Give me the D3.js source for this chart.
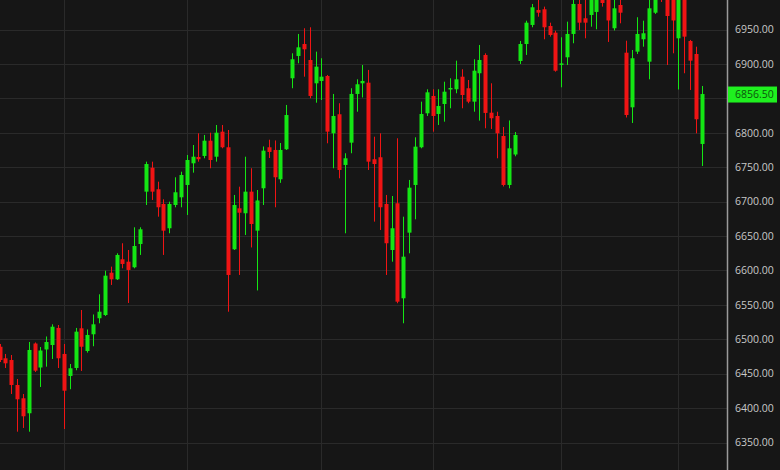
<!DOCTYPE html>
<html>
<head>
<meta charset="utf-8">
<script src="https://cdn.jsdelivr.net/npm/d3@7"></script>
<style>
  html, body { margin: 0; padding: 0; background: #161616; }
  #chart { width: 780px; height: 470px; }
</style>
</head>
<body>
<div id="chart"></div>
<script>
// OHLC, one entry per session (oldest first)
var open = [6489.2, 6472.4, 6469.9, 6433.6, 6414.3, 6392.5, 6493.9, 6459.0, 6485.2, 6491.7,
  6516.5, 6478.7, 6446.7, 6458.3, 6516.0, 6483.0, 6507.3, 6530.6, 6535.3, 6596.8,
  6587.2, 6616.3, 6612.8, 6604.7, 6638.5, 6714.6, 6749.4, 6718.1, 6696.7, 6661.4,
  6695.2, 6706.4, 6724.3, 6755.8, 6765.0, 6766.5, 6788.7, 6765.4, 6801.8, 6779.1,
  6630.8, 6690.4, 6683.2, 6714.6, 6657.9, 6719.5, 6779.1, 6775.2, 6732.6, 6776.2,
  6879.4, 6911.8, 6929.2, 6906.0, 6872.1, 6875.5, 6882.7, 6799.4, 6827.1, 6753.4,
  6785.8, 6856.6, 6872.1, 6873.0, 6761.7, 6764.6, 6696.7, 6629.8, 6697.7, 6559.6,
  6655.0, 6724.3, 6779.1, 6828.5, 6853.7, 6827.5, 6842.0, 6864.9, 6863.4, 6881.7,
  6864.9, 6845.4, 6886.7, 6913.3, 6829.4, 6824.6, 6795.5, 6724.3, 6768.6, 6904.5,
  6929.2, 6956.9, 6978.7, 6979.7, 6955.4, 6945.7, 6900.2, 6909.9, 6943.8, 6987.4,
  6966.6, 6971.4, 6975.8, 7000.5, 6996.1, 6952.1, 6985.9, 6916.6, 6837.2, 6918.1,
  6936.1, 6903.5, 6974.7, 7007.7, 6996.1, 6997.5, 6937.5, 6997.5, 6933.6, 6914.7,
  6783.9];
var high = [6493.2, 6478.7, 6477.2, 6442.3, 6420.5, 6496.1, 6495.4, 6488.8, 6504.1, 6521.8,
  6520.8, 6493.2, 6464.1, 6516.5, 6542.6, 6514.3, 6536.1, 6565.4, 6599.7, 6605.6,
  6625.0, 6639.6, 6629.8, 6662.8, 6662.8, 6758.2, 6758.2, 6729.1, 6703.5, 6700.0,
  6735.5, 6743.6, 6767.9, 6782.4, 6799.4, 6797.0, 6800.3, 6811.5, 6811.5, 6804.2,
  6709.8, 6721.8, 6765.4, 6748.6, 6717.0, 6780.3, 6790.1, 6789.0, 6785.3, 6840.6,
  6915.7, 6943.8, 6952.1, 6953.5, 6918.1, 6908.5, 6884.2, 6856.6, 6843.1, 6770.4,
  6864.9, 6877.9, 6898.7, 6891.5, 6794.5, 6799.4, 6709.8, 6708.3, 6792.2, 6678.2,
  6731.6, 6793.6, 6845.4, 6863.4, 6863.4, 6863.4, 6874.4, 6879.4, 6905.0, 6892.5,
  6876.9, 6907.0, 6927.8, 6915.7, 6872.1, 6830.8, 6808.6, 6818.1, 6801.3, 6933.6,
  6963.1, 6987.4, 7000.5, 6983.5, 6960.2, 6948.6, 6939.0, 6961.7, 7000.5, 7004.8,
  6997.5, 7007.7, 7010.6, 7008.0, 7004.8, 6997.5, 6997.5, 6934.0, 6920.5, 6968.1,
  6963.1, 6996.1, 7007.7, 7015.0, 7000.5, 7004.8, 7004.8, 7004.8, 6935.1, 6925.3,
  6868.2];
var low = [6467.0, 6458.3, 6420.5, 6365.7, 6371.1, 6365.7, 6452.5, 6430.7, 6460.2, 6471.4,
  6458.3, 6369.6, 6427.4, 6455.0, 6454.0, 6480.6, 6489.9, 6523.3, 6533.9, 6579.0,
  6586.2, 6603.2, 6552.8, 6603.2, 6622.6, 6695.2, 6702.5, 6678.2, 6622.6, 6654.1,
  6691.9, 6691.9, 6680.7, 6742.2, 6758.2, 6763.1, 6748.6, 6758.2, 6777.6, 6540.1,
  6629.8, 6593.5, 6651.6, 6633.5, 6571.0, 6695.2, 6763.5, 6691.9, 6727.4, 6775.2,
  6864.9, 6901.2, 6881.7, 6850.3, 6843.9, 6847.8, 6784.9, 6748.6, 6734.0, 6654.1,
  6770.4, 6830.8, 6851.5, 6746.1, 6671.0, 6658.9, 6593.5, 6612.8, 6552.4, 6523.3,
  6625.0, 6674.4, 6777.6, 6824.6, 6801.8, 6811.5, 6816.3, 6835.8, 6857.6, 6835.8,
  6843.1, 6830.8, 6817.8, 6806.7, 6805.7, 6763.1, 6722.1, 6719.5, 6766.0, 6900.2,
  6913.3, 6953.5, 6968.9, 6936.1, 6939.9, 6889.0, 6866.3, 6898.7, 6930.3, 6949.6,
  6937.5, 6954.4, 6950.6, 6983.5, 6932.2, 6948.9, 6959.3, 6822.4, 6814.4, 6914.7,
  6925.3, 6877.9, 6972.9, 6990.3, 6898.7, 6915.7, 6863.1, 6886.7, 6862.4, 6799.4,
  6751.9];
var close = [6469.9, 6465.1, 6433.6, 6412.8, 6388.1, 6484.5, 6454.4, 6483.7, 6496.1, 6518.3,
  6472.4, 6425.3, 6457.9, 6511.1, 6489.2, 6506.3, 6521.8, 6540.1, 6592.5, 6587.2,
  6622.6, 6609.5, 6600.8, 6635.6, 6659.9, 6754.8, 6714.6, 6691.9, 6657.9, 6696.7,
  6713.7, 6738.8, 6760.6, 6765.4, 6761.7, 6788.7, 6760.6, 6800.3, 6779.1, 6593.5,
  6695.2, 6684.0, 6714.6, 6667.6, 6701.8, 6774.2, 6772.3, 6735.5, 6775.2, 6826.0,
  6907.0, 6924.4, 6921.5, 6853.7, 6896.3, 6881.7, 6801.8, 6824.6, 6746.1, 6763.1,
  6856.6, 6870.7, 6875.5, 6758.2, 6754.8, 6691.9, 6639.6, 6661.4, 6554.7, 6620.1,
  6720.4, 6780.0, 6827.5, 6859.0, 6824.6, 6839.1, 6859.9, 6865.3, 6877.9, 6855.1,
  6845.4, 6890.4, 6906.0, 6829.0, 6821.3, 6799.4, 6724.3, 6777.6, 6797.0, 6929.2,
  6960.2, 6982.6, 6974.7, 6953.5, 6942.3, 6890.4, 6901.0, 6943.8, 6987.4, 6960.2,
  6960.2, 6997.5, 7000.5, 6988.8, 6963.4, 6981.1, 6974.7, 6826.0, 6908.5, 6943.8,
  6944.8, 6981.1, 6997.5, 6996.1, 6969.9, 6963.4, 6996.1, 6939.9, 6905.0, 6819.8,
  6856.5];

// price axis labels and the sessions where a new month starts
var priceTicks = [6350, 6400, 6450, 6500, 6550, 6600, 6650, 6700, 6750, 6800, 6850, 6900, 6950];
var gridTicks = priceTicks.concat([7000]);
var monthStarts = [11, 32, 55, 74, 96, 116];

var w = 780, h = 470
  , plotW = 727
  , upColor = "#14e614"
  , downColor = "#f01414"
  , bodyW = 4;

var candles = open.map(function(o, i) {
  return {i: i, o: o, h: high[i], l: low[i], c: close[i]};
});

// Scales
var x = d3.scaleLinear().domain([0, candles.length - 1]).range([-0.5, 701.8]);
var y = d3.scaleLinear().domain([6350, 6950]).range([442.5, 29.7]);

var svg = d3.select("#chart").append("svg")
  .attr("width", w)
  .attr("height", h)
  .style("display", "block");

svg.append("rect")
  .attr("width", w)
  .attr("height", h)
  .attr("fill", "#161616");

svg.append("clipPath").attr("id", "plot-clip")
  .append("rect")
  .attr("width", plotW)
  .attr("height", h);

var plot = svg.append("g").attr("clip-path", "url(#plot-clip)");

// Grid
plot.selectAll(".hgrid")
  .data(gridTicks)
  .enter().append("line")
  .attr("class", "hgrid")
  .attr("x1", 0)
  .attr("x2", plotW)
  .attr("y1", function(d) { return Math.round(y(d)) + 0.5; })
  .attr("y2", function(d) { return Math.round(y(d)) + 0.5; })
  .style("stroke", "#2a2a2a")
  .style("stroke-width", 1);

plot.selectAll(".vgrid")
  .data(monthStarts)
  .enter().append("line")
  .attr("class", "vgrid")
  .attr("x1", function(d) { return Math.round(x(d)) + 0.5; })
  .attr("x2", function(d) { return Math.round(x(d)) + 0.5; })
  .attr("y1", 0)
  .attr("y2", h)
  .style("stroke", "#2a2a2a")
  .style("stroke-width", 1);

// Candles
var candle = plot.selectAll(".candle")
  .data(candles)
  .enter().append("g")
  .attr("class", "candle");

candle.append("line")
  .attr("x1", function(d) { return Math.round(x(d.i)) + 0.5; })
  .attr("x2", function(d) { return Math.round(x(d.i)) + 0.5; })
  .attr("y1", function(d) { return y(d.h); })
  .attr("y2", function(d) { return y(d.l); })
  .style("stroke", function(d) { return d.c >= d.o ? upColor : downColor; })
  .style("stroke-width", 1);

candle.append("rect")
  .attr("x", function(d) { return Math.round(x(d.i)) + 0.5 - bodyW / 2; })
  .attr("y", function(d) { return y(Math.max(d.o, d.c)); })
  .attr("width", bodyW)
  .attr("height", function(d) { return Math.max(1.5, Math.abs(y(d.o) - y(d.c))); })
  .style("fill", function(d) { return d.c >= d.o ? upColor : downColor; });

// Price axis on the right
var last = candles[candles.length - 1].c;

svg.append("line")
  .attr("x1", plotW + 0.5)
  .attr("x2", plotW + 0.5)
  .attr("y1", 0)
  .attr("y2", h)
  .style("stroke", "#9a9a9a")
  .style("stroke-width", 1.5);

svg.selectAll(".ylabel")
  .data(priceTicks.filter(function(d) { return Math.abs(y(d) - y(last)) > 10; }))
  .enter().append("text")
  .attr("class", "ylabel")
  .attr("x", 735)
  .attr("y", function(d) { return y(d); })
  .attr("dy", "0.35em")
  .style("font-family", "'Open Sans', 'Noto Sans', sans-serif")
  .style("font-size", "10.5px")
  .style("fill", "#c8c8c8")
  .text(function(d) { return d3.format(".2f")(d); });

// Last price tag
svg.append("rect")
  .attr("x", plotW + 1)
  .attr("y", y(last) - 7.5)
  .attr("width", 49)
  .attr("height", 16)
  .style("fill", "#1ff01f");

svg.append("text")
  .attr("x", 735)
  .attr("y", y(last) + 0.5)
  .attr("dy", "0.35em")
  .style("font-family", "'Open Sans', 'Noto Sans', sans-serif")
  .style("font-size", "10.5px")
  .style("fill", "#0c560c")
  .text(d3.format(".2f")(last));
</script>
</body>
</html>
